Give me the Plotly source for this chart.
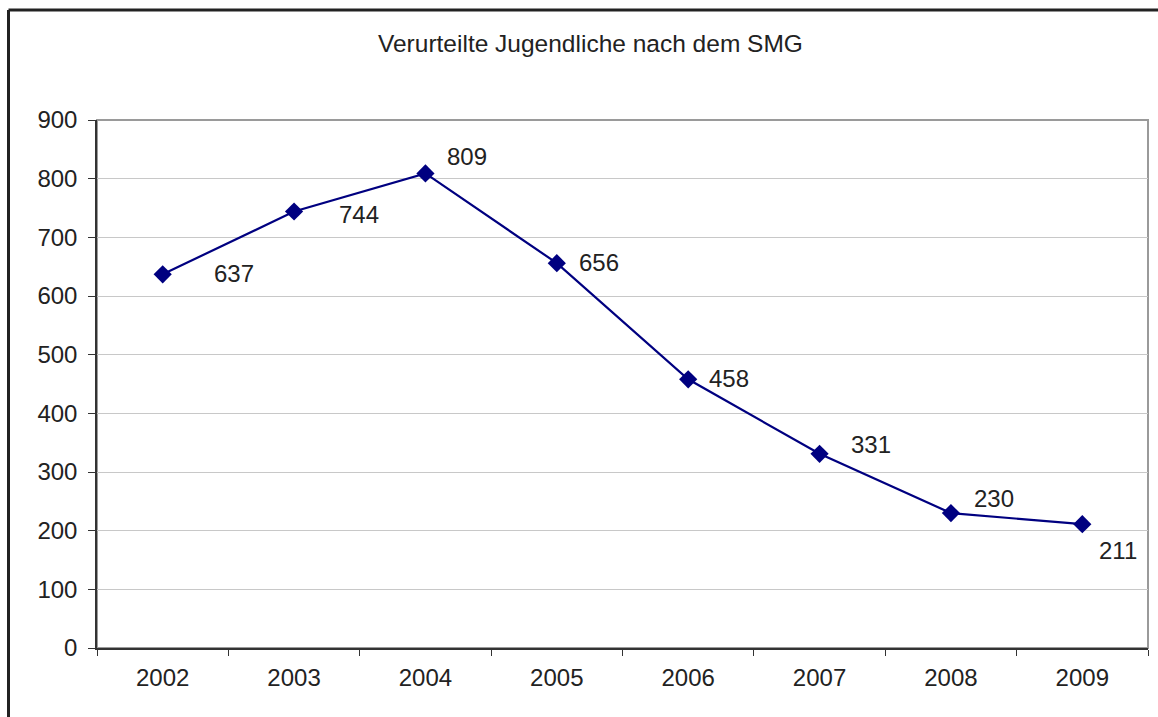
import plotly.graph_objects as go

years = ["2002", "2003", "2004", "2005", "2006", "2007", "2008", "2009"]
values = [637, 744, 809, 656, 458, 331, 230, 211]
label_dx = [71, 65, 42, 42, 41, 51, 43, 36]
label_dy = [1, -3, 17, 1, 1, 9, 15, -26]

title_text = "Verurteilte Jugendliche nach dem SMG"
font_family = "Liberation Sans, Arial, sans-serif"
text_color = "#222222"
FS = 24

fig = go.Figure()
fig.add_trace(go.Scatter(
    x=years, y=values, mode="lines+markers",
    line=dict(color="#000080", width=2.2),
    marker=dict(symbol="diamond", size=14, color="#000080"),
    hoverinfo="skip", showlegend=False,
))

for i, (v, dx, dy) in enumerate(zip(values, label_dx, label_dy)):
    fig.add_annotation(x=i, y=v, xref="x", yref="y", text=str(v), showarrow=False,
                       xshift=dx, yshift=dy,
                       font=dict(family=font_family, size=FS, color=text_color))

fig.add_annotation(x=(590 - 97) / (1148 - 97), y=(648 - 43) / (648 - 120),
                   xref="paper", yref="paper", text=title_text, showarrow=False,
                   xanchor="center", yanchor="middle",
                   font=dict(family=font_family, size=24.5, color=text_color))

# plot-area border (gray)
fig.add_shape(type="rect", xref="paper", yref="paper", x0=0, x1=1, y0=0, y1=1,
              line=dict(color="#9a9a9a", width=2), layer="below")
# outer chart frame (black), cut by the image edges on right and bottom
fig.add_shape(type="line", xref="paper", yref="paper",
              x0=(8.5 - 97) / 1051, x1=(1170 - 97) / 1051,
              y0=(648 - 10) / 528, y1=(648 - 10) / 528,
              line=dict(color="#222222", width=3))
fig.add_shape(type="line", xref="paper", yref="paper",
              x0=(8.5 - 97) / 1051, x1=(8.5 - 97) / 1051,
              y0=(648 - 10) / 528, y1=(648 - 730) / 528,
              line=dict(color="#222222", width=3))

fig.update_layout(
    width=1158, height=717, autosize=False,
    margin=dict(l=97, r=10, t=120, b=69),
    plot_bgcolor="white", paper_bgcolor="white",
    font=dict(family=font_family, size=FS, color=text_color),
)
fig.update_xaxes(
    type="category", range=[-0.5, 7.5], tickson="boundaries", ticks="outside", ticklen=6,
    tickcolor="#333333", tickwidth=1.3, tickangle=0,
    showline=True, linecolor="#333333", linewidth=1.5,
    showgrid=False, zeroline=False,
    tickfont=dict(family=font_family, size=FS, color=text_color),
    ticklabelstandoff=7,
)
fig.update_yaxes(
    range=[0, 900], dtick=100, ticks="outside", ticklen=7,
    tickcolor="#333333", tickwidth=1.3,
    showline=True, linecolor="#333333", linewidth=1.5,
    showgrid=True, gridcolor="#c8c8c8", gridwidth=1, zeroline=False,
    tickfont=dict(family=font_family, size=FS, color=text_color),
    ticklabelstandoff=6,
)

fig.write_html("out.html", config={"displayModeBar": False},
               post_script="document.body.style.margin='0';document.body.style.overflow='hidden';")
